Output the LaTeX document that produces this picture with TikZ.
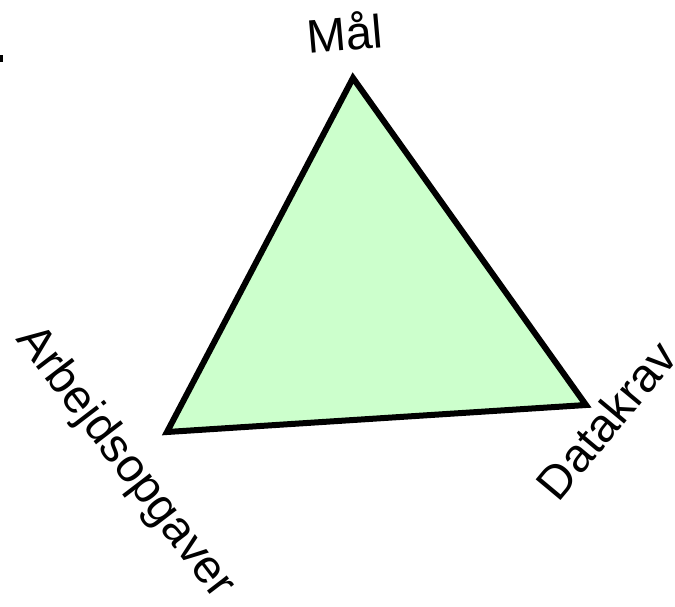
\documentclass[tikz,border=0pt]{standalone}
\usepackage{fontspec}
\setmainfont{Liberation Sans}
\begin{document}
\begin{tikzpicture}[x=1pt,y=-1pt,
  tri/.style={draw=black,line width=6pt,line join=miter,fill=lightgreen},
  lbl/.style={inner sep=0pt,font=\fontsize{47}{55}\selectfont}]
\definecolor{lightgreen}{HTML}{CCFFCC}
\useasboundingbox (0,0) rectangle (675,606);
\coordinate (top) at (353,78);
\coordinate (bl) at (167,432);
\coordinate (br) at (586,405);
\draw[tri] (top) -- (bl) -- (br) -- cycle;
\node[lbl,rotate=5] (mal) at (345,32) {Mål};
\node[lbl,rotate=-52.6] (arb) at (125,463) {Arbejdsopgaver};
\node[lbl,rotate=50.2] (data) at (606,420) {Datakrav};
\fill[black] (0,55) rectangle (3,62);
\end{tikzpicture}
\end{document}
